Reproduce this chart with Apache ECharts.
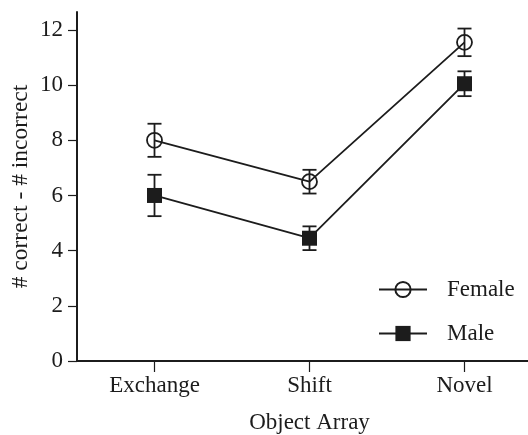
<!DOCTYPE html>
<html>
<head>
<meta charset="utf-8">
<script src="https://cdn.jsdelivr.net/npm/echarts@6/dist/echarts.min.js"></script>
<style>
  html, body { margin: 0; padding: 0; background: #fff; }
  #chart { width: 528px; height: 435px; }
</style>
</head>
<body>
<div id="chart"></div>
<script>
// Task categories along the x axis
const categories = ['Exchange', 'Shift', 'Novel'];

// Mean score (# correct - # incorrect) and standard error per group
const femaleMeans = [8.0, 6.5, 11.55];
const femaleErr   = [0.6, 0.43, 0.5];
const maleMeans   = [6.0, 4.45, 10.05];
const maleErr     = [0.75, 0.43, 0.45];

// Y-axis tick labels
const yTicks = [0, 2, 4, 6, 8, 10, 12];

const ink = '#1c1c1c';
const serif = 'Liberation Serif';
const fontSize = 23;

function errorRows(means, errs) {
  return means.map((m, i) => [i, m - errs[i], m + errs[i]]);
}

function errorBarSeries(name, means, errs) {
  return {
    type: 'custom',
    name: name + ' SE',
    data: errorRows(means, errs),
    z: 3,
    silent: true,
    renderItem: function (params, api) {
      const x = api.value(0);
      const lo = api.coord([x, api.value(1)]);
      const hi = api.coord([x, api.value(2)]);
      const cap = 7;
      const style = { stroke: ink, lineWidth: 1.8 };
      return {
        type: 'group',
        children: [
          { type: 'line', shape: { x1: lo[0], y1: lo[1], x2: hi[0], y2: hi[1] }, style: style },
          { type: 'line', shape: { x1: hi[0] - cap, y1: hi[1], x2: hi[0] + cap, y2: hi[1] }, style: style },
          { type: 'line', shape: { x1: lo[0] - cap, y1: lo[1], x2: lo[0] + cap, y2: lo[1] }, style: style }
        ]
      };
    }
  };
}

const chart = echarts.init(document.getElementById('chart'), null, { renderer: 'canvas' });

chart.setOption({
  animation: false,
  backgroundColor: '#fff',
  textStyle: { fontFamily: serif, color: ink },
  grid: { left: 77, top: 12, bottom: 74, right: -14, containLabel: false, outerBoundsMode: 'none' },
  legend: {
    orient: 'vertical',
    left: 373,
    top: 273,
    itemWidth: 48,
    itemHeight: 19,
    itemGap: 21,
    data: ['Female', 'Male'],
    textStyle: { fontFamily: serif, fontSize: fontSize, color: ink, padding: [0, 0, 0, 15] }
  },
  xAxis: {
    type: 'category',
    data: categories,
    boundaryGap: true,
    name: 'Object Array',
    nameLocation: 'middle',
    nameGap: 50,
    nameMoveOverlap: false,
    nameTextStyle: { fontFamily: serif, fontSize: fontSize, color: ink },
    axisLine: { lineStyle: { color: ink, width: 2 } },
    axisTick: { show: true, alignWithLabel: true, length: 11, inside: false, lineStyle: { color: ink, width: 1.2 } },
    axisLabel: { fontFamily: serif, fontSize: fontSize, color: ink, margin: 13 },
    splitLine: { show: false }
  },
  yAxis: {
    type: 'value',
    min: 0,
    max: 12.65,
    name: '# correct - # incorrect',
    nameLocation: 'middle',
    nameRotate: 90,
    nameGap: 44,
    nameMoveOverlap: false,
    nameTextStyle: { fontFamily: serif, fontSize: 23.5, color: ink },
    axisLine: { show: true, lineStyle: { color: ink, width: 2 } },
    axisTick: { show: true, length: 9, lineStyle: { color: ink, width: 1.2 }, customValues: yTicks },
    axisLabel: { fontFamily: serif, fontSize: fontSize, color: ink, margin: 14, customValues: yTicks },
    splitLine: { show: false }
  },
  series: [
    errorBarSeries('Female', femaleMeans, femaleErr),
    errorBarSeries('Male', maleMeans, maleErr),
    {
      name: 'Female',
      type: 'line',
      data: femaleMeans,
      symbol: 'circle',
      symbolSize: 15,
      z: 4,
      lineStyle: { color: ink, width: 1.8 },
      itemStyle: { color: 'rgba(255,255,255,0)', borderColor: ink, borderWidth: 1.8 }
    },
    {
      name: 'Male',
      type: 'line',
      data: maleMeans,
      symbol: 'rect',
      symbolSize: 15,
      z: 4,
      lineStyle: { color: ink, width: 1.8 },
      itemStyle: { color: ink, borderColor: ink, borderWidth: 0 }
    }
  ]
});
</script>
</body>
</html>
